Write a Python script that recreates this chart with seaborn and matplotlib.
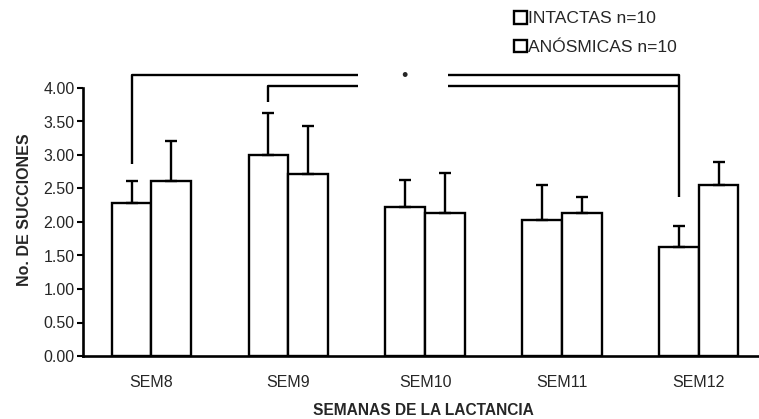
import numpy as np
import pandas as pd
import matplotlib
matplotlib.use("Agg")
import matplotlib.pyplot as plt
import seaborn as sns

# Weekly mean number of sucklings per group, with upward SE bars
weeks = ["SEM8", "SEM9", "SEM10", "SEM11", "SEM12"]
groups = ["INTACTAS n=10", "ANÓSMICAS n=10"]
intactas = [2.29, 3.00, 2.23, 2.03, 1.63]
anosmicas = [2.61, 2.72, 2.13, 2.14, 2.55]
err_intactas = [0.32, 0.62, 0.39, 0.52, 0.31]
err_anosmicas = [0.60, 0.72, 0.60, 0.24, 0.34]
yticks = [0.0, 0.5, 1.0, 1.5, 2.0, 2.5, 3.0, 3.5, 4.0]

df = pd.DataFrame({
    "semana": weeks * 2,
    "grupo": [groups[0]] * len(weeks) + [groups[1]] * len(weeks),
    "succiones": intactas + anosmicas,
    "err": err_intactas + err_anosmicas,
})

sns.set_style("white")
plt.rcParams["font.family"] = ["Liberation Sans", "DejaVu Sans"]

W, H = 759, 419
fig = plt.figure(figsize=(W / 100, H / 100), dpi=100)
x0, x1 = 83, 759
y0, y1 = 356, 88
ax = fig.add_axes([x0 / W, (H - y0) / H, (x1 - x0) / W, (y0 - y1) / H])

sns.barplot(data=df, x="semana", y="succiones", hue="grupo", order=weeks,
            hue_order=groups, palette=["white", "white"], edgecolor="black",
            linewidth=1.7, width=0.58, errorbar=None, ax=ax, legend=True)

# upward-only error bars at the centre of each bar
bars = [p for p in ax.patches if p.get_height() > 0][: 2 * len(weeks)]
centers = {}
for gi, g in enumerate(groups):
    vals = intactas if gi == 0 else anosmicas
    errs = err_intactas if gi == 0 else err_anosmicas
    for wi in range(len(weeks)):
        p = bars[gi * len(weeks) + wi]
        cx = p.get_x() + p.get_width() / 2
        centers[(gi, wi)] = cx
        ax.errorbar(cx, vals[wi], yerr=[[0], [errs[wi]]], fmt="none",
                    ecolor="black", elinewidth=1.7, capsize=4, capthick=1.7,
                    zorder=1)

ax.set_xlim(-0.5, 4.44)
ax.set_ylim(0, 4.0)
ax.set_yticks(yticks)
ax.set_yticklabels([f"{v:.2f}" for v in yticks], fontsize=11.5)
ax.set_xticks(range(len(weeks)))
ax.set_xticklabels(weeks, fontsize=11.5)
ax.set_xticks(np.arange(0.5, 4.0, 1.0), minor=True)
ax.tick_params(axis="x", which="major", length=0, pad=14)
ax.tick_params(axis="x", which="minor", length=4, width=1.5, direction="out",
               color="black")
ax.tick_params(axis="y", length=4, width=1.5, direction="out", color="black",
               pad=2, left=True)
for side in ["top", "right"]:
    ax.spines[side].set_visible(False)
for side in ["left", "bottom"]:
    ax.spines[side].set_linewidth(1.9)
    ax.spines[side].set_color("black")

ax.set_xlabel("")
ax.set_ylabel("")
fig.text(25 / W, 1 - 210 / H, "No. DE SUCCIONES", rotation=90, ha="center",
         va="center", fontsize=11.5, fontweight="bold")
fig.text(423 / W, 1 - 410 / H, "SEMANAS DE LA LACTANCIA", ha="center",
         va="center", fontsize=11.2, fontweight="bold")

# significance brackets above the bars
lw = 1.7
xa = centers[(0, 0)]
xb = centers[(0, 1)]
xe = centers[(0, 4)]
gap_l, gap_r = 1.51, 2.17
top1, top2 = 4.19, 4.03
kw = dict(color="black", lw=lw, clip_on=False, solid_capstyle="butt")
ax.plot([xa, xa, gap_l], [2.87, top1, top1], **kw)
ax.plot([gap_r, xe, xe], [top1, top1, 2.38], **kw)
ax.plot([xb, xb, gap_l], [3.79, top2, top2], **kw)
ax.plot([gap_r, xe], [top2, top2], **kw)
ax.text(1.85, 4.17, "•", ha="center", va="center", fontsize=13, clip_on=False)

# legend with square swatches in the upper right corner
handles, labels = ax.get_legend_handles_labels()
leg = ax.legend(handles, labels, loc="center left",
                bbox_to_anchor=(514 / W, 1 - 33 / H), bbox_transform=fig.transFigure,
                frameon=False, fontsize=12.6, handlelength=0.72, handleheight=0.72,
                handletextpad=0.1, labelspacing=0.75, borderaxespad=0,
                borderpad=0)
for h in leg.legend_handles:
    h.set_linewidth(1.7)
    h.set_edgecolor("black")

fig.savefig("out.png", dpi=100)
